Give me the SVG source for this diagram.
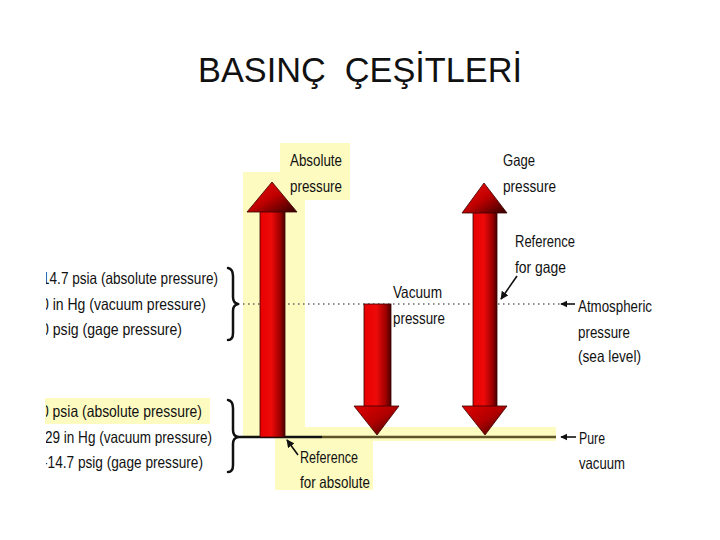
<svg xmlns="http://www.w3.org/2000/svg" width="720" height="540" viewBox="0 0 720 540">
<defs>
<style>
.t{font-family:"Liberation Sans",Arial,sans-serif;font-size:16.5px;fill:#111}
.title{font-family:"Liberation Sans",Arial,sans-serif;font-size:35px;fill:#111}
.hl{fill:#fdfbc0}
.brace{fill:none;stroke:#111;stroke-width:2.5;stroke-linecap:round;stroke-linejoin:round}
.ptr{stroke:#111;stroke-width:1.6;fill:none}
.arrow{stroke:#3a0000;stroke-width:0.8}
</style>
<linearGradient id="shaft" x1="0" y1="0" x2="1" y2="0">
<stop offset="0" stop-color="#e80000"/>
<stop offset="0.45" stop-color="#ee0a0a"/>
<stop offset="0.8" stop-color="#a00000"/>
<stop offset="1" stop-color="#4a0000"/>
</linearGradient>
<linearGradient id="headUp" x1="0" y1="0" x2="1" y2="1">
<stop offset="0" stop-color="#f01010"/>
<stop offset="0.5" stop-color="#c00000"/>
<stop offset="1" stop-color="#300000"/>
</linearGradient>
<linearGradient id="headDown" x1="0" y1="0" x2="1" y2="1">
<stop offset="0" stop-color="#e00000"/>
<stop offset="0.5" stop-color="#b00000"/>
<stop offset="1" stop-color="#300000"/>
</linearGradient>
<marker id="ah" viewBox="0 0 10 10" refX="9" refY="5" markerWidth="5" markerHeight="5" orient="auto">
<path d="M0,0 L10,5 L0,10 z" fill="#111"/>
</marker>
<marker id="ahb" viewBox="0 0 10 10" refX="9" refY="5" markerWidth="4.5" markerHeight="4.5" orient="auto">
<path d="M0,0 L10,5 L0,10 z" fill="#111"/>
</marker>
<clipPath id="leftclip"><rect x="46" y="0" width="300" height="540"/></clipPath>
</defs>

<text class="title" x="198" y="82" textLength="324" lengthAdjust="spacingAndGlyphs" xml:space="preserve">BASINÇ  ÇEŞİTLERİ</text>

<g id="highlights">
<rect class="hl" x="243" y="172" width="62" height="266"/>
<rect class="hl" x="280" y="143" width="70" height="57"/>
<rect class="hl" x="305" y="427" width="251" height="14"/>
<rect class="hl" x="275" y="437" width="98" height="53"/>
<rect class="hl" x="45" y="398" width="165" height="26"/>
</g>

<g id="connectors">
<line x1="238" y1="304" x2="560" y2="304" stroke="#666" stroke-width="1.3" stroke-dasharray="1.5 3.5"/>
<line x1="238" y1="437" x2="322" y2="437" stroke="#111" stroke-width="2.6"/>
<line x1="322" y1="437" x2="556" y2="437" stroke="#5e5428" stroke-width="2.6"/>
<line class="ptr" x1="575" y1="304" x2="561" y2="304" stroke-width="2.4" marker-end="url(#ahb)"/>
<line class="ptr" x1="576" y1="437" x2="561" y2="437" stroke-width="2.4" marker-end="url(#ahb)"/>
<line class="ptr" x1="517" y1="276" x2="501" y2="299" marker-end="url(#ah)"/>
<line class="ptr" x1="298" y1="455" x2="287" y2="440" marker-end="url(#ah)"/>
</g>

<g id="braces">
<path class="brace" d="M228,268 Q233,269 233,276 L233,297 Q233,303 238,304 Q233,305 233,311 L233,333 Q233,340 228,340"/>
<path class="brace" d="M228,400 Q233,401 233,408 L233,430 Q233,436 238,437 Q233,438 233,444 L233,465 Q233,472 228,472"/>
</g>

<g id="absolute-arrow">
<rect class="arrow" x="260" y="211" width="25" height="226" fill="url(#shaft)"/>
<polygon class="arrow" points="272,182 297,212 247,212" fill="url(#headUp)"/>
</g>

<g id="vacuum-arrow">
<rect class="arrow" x="364" y="304" width="27" height="103" fill="url(#shaft)"/>
<polygon class="arrow" points="354,406 399,406 377,435" fill="url(#headDown)"/>
</g>

<g id="gage-arrow">
<rect class="arrow" x="473" y="211" width="24" height="196" fill="url(#shaft)"/>
<polygon class="arrow" points="484,183 507,213 462,213" fill="url(#headUp)"/>
<polygon class="arrow" points="462,406 507,406 485,435" fill="url(#headDown)"/>
</g>

<g id="labels">
<text class="t" x="290" y="166" textLength="52" lengthAdjust="spacingAndGlyphs">Absolute</text>
<text class="t" x="290" y="192" textLength="52" lengthAdjust="spacingAndGlyphs">pressure</text>
<text class="t" x="503" y="166" textLength="32" lengthAdjust="spacingAndGlyphs">Gage</text>
<text class="t" x="503" y="192" textLength="53" lengthAdjust="spacingAndGlyphs">pressure</text>
<text class="t" x="515" y="247" textLength="60" lengthAdjust="spacingAndGlyphs">Reference</text>
<text class="t" x="515" y="273" textLength="51" lengthAdjust="spacingAndGlyphs">for gage</text>
<text class="t" x="393" y="298" textLength="49" lengthAdjust="spacingAndGlyphs">Vacuum</text>
<text class="t" x="393" y="324" textLength="52" lengthAdjust="spacingAndGlyphs">pressure</text>
<text class="t" x="578" y="312" textLength="74" lengthAdjust="spacingAndGlyphs">Atmospheric</text>
<text class="t" x="578" y="338" textLength="52" lengthAdjust="spacingAndGlyphs">pressure</text>
<text class="t" x="578" y="362" textLength="63" lengthAdjust="spacingAndGlyphs">(sea level)</text>
<text class="t" x="579" y="444" textLength="26" lengthAdjust="spacingAndGlyphs">Pure</text>
<text class="t" x="579" y="469" textLength="46" lengthAdjust="spacingAndGlyphs">vacuum</text>
<text class="t" x="300" y="463" textLength="58" lengthAdjust="spacingAndGlyphs">Reference</text>
<text class="t" x="300" y="488" textLength="70" lengthAdjust="spacingAndGlyphs">for absolute</text>
</g>

<g id="scale-texts" clip-path="url(#leftclip)">
<text class="t" x="42" y="284" textLength="176" lengthAdjust="spacingAndGlyphs">14.7 psia (absolute pressure)</text>
<text class="t" x="41" y="310" textLength="165" lengthAdjust="spacingAndGlyphs">0 in Hg (vacuum pressure)</text>
<text class="t" x="41" y="335" textLength="141" lengthAdjust="spacingAndGlyphs">0 psig (gage pressure)</text>
<text class="t" x="41" y="417" textLength="161" lengthAdjust="spacingAndGlyphs">0 psia (absolute pressure)</text>
<text class="t" x="45" y="443" textLength="167" lengthAdjust="spacingAndGlyphs">29 in Hg (vacuum pressure)</text>
<text class="t" x="43" y="468" textLength="160" lengthAdjust="spacingAndGlyphs">-14.7 psig (gage pressure)</text>
</g>
</svg>
